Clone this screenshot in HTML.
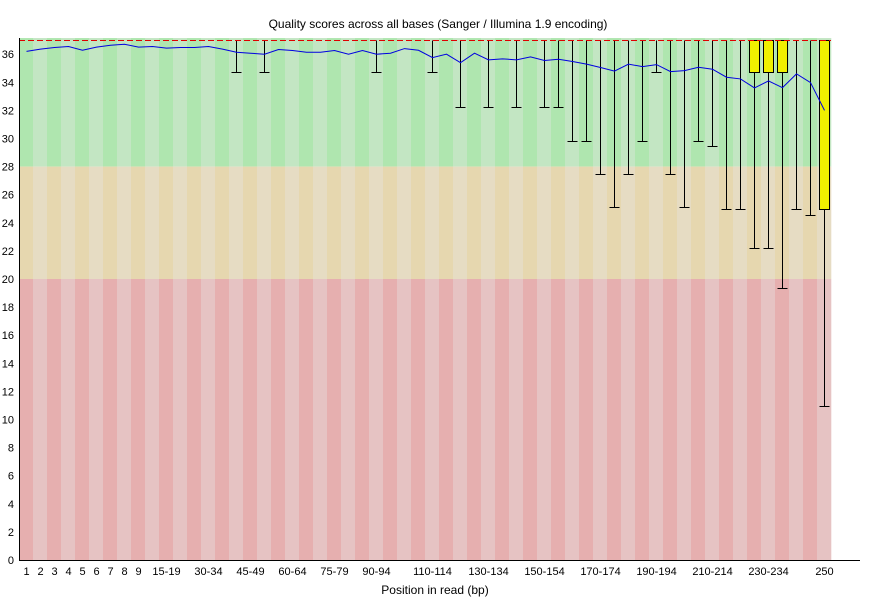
<!DOCTYPE html>
<html><head><meta charset="utf-8"><style>
body{margin:0;background:#fff;}
svg{display:block;font-family:"Liberation Sans","DejaVu Sans",sans-serif;}
</style></head><body>
<svg id="chart" width="870" height="600" viewBox="0 0 870 600" xmlns="http://www.w3.org/2000/svg">
<text x="438" y="28" font-size="12" text-anchor="middle">Quality scores across all bases (Sanger / Illumina 1.9 encoding)</text>
<text x="435" y="594" font-size="12" text-anchor="middle">Position in read (bp)</text>
<g id="bg"></g><g id="marks"></g><g id="axes"></g>
</svg>
<script>
const categories=["1","2","3","4","5","6","7","8","9","10-14","15-19","20-24","25-29","30-34","35-39","40-44","45-49","50-54","55-59","60-64","65-69","70-74","75-79","80-84","85-89","90-94","95-99","100-104","105-109","110-114","115-119","120-124","125-129","130-134","135-139","140-144","145-149","150-154","155-159","160-164","165-169","170-174","175-179","180-184","185-189","190-194","195-199","200-204","205-209","210-214","215-219","220-224","225-229","230-234","235-239","240-244","245-249","250"];
const shownLabels=["1","2","3","4","5","6","7","8","9","15-19","30-34","45-49","60-64","75-79","90-94","110-114","130-134","150-154","170-174","190-194","210-214","230-234","250"];
const meanValues=[36.2,36.36,36.48,36.55,36.28,36.5,36.64,36.71,36.5,36.55,36.43,36.48,36.48,36.55,36.36,36.14,36.07,36.0,36.33,36.26,36.14,36.14,36.26,36.0,36.26,36.0,36.07,36.4,36.28,35.76,36.0,35.4,36.07,35.6,35.67,35.6,35.81,35.55,35.64,35.48,35.29,35.05,34.8,35.29,35.12,35.26,34.76,34.83,35.07,34.93,34.36,34.24,33.6,34.1,33.62,34.6,33.98,32.0];
const lowerQuartile=[37,37,37,37,37,37,37,37,37,37,37,37,37,37,37,37,37,37,37,37,37,37,37,37,37,37,37,37,37,37,37,37,37,37,37,37,37,37,37,37,37,37,37,37,37,37,37,37,37,37,37,37,34.7,34.7,34.7,37,37,25.0];
const upperQuartile=categories.map(()=>37);
const lowerWhisker=[37,37,37,37,37,37,37,37,37,37,37,37,37,37,37,34.7,37,34.7,37,37,37,37,37,37,37,34.7,37,37,37,34.7,37,32.26,37,32.26,37,32.26,37,32.26,32.26,29.84,29.84,27.5,25.1,27.5,29.84,34.7,27.5,25.1,29.84,29.48,24.96,25.0,22.18,22.18,19.34,25.0,24.53,10.94];
const upperWhisker=categories.map(()=>37);
const yTicks=[0,2,4,6,8,10,12,14,16,18,20,22,24,26,28,30,32,34,36];
const zones=[{from:28,to:37.15,c:["rgb(175,230,175)","rgb(195,230,195)"]},{from:20,to:28,c:["rgb(230,215,175)","rgb(230,220,195)"]},{from:0,to:20,c:["rgb(230,175,175)","rgb(230,195,195)"]}];

const NS="http://www.w3.org/2000/svg";
const L=19,R=831,B=560,K=14.05;
const bw=(R-L)/categories.length;
const xs=i=>L+bw*i;
const xc=i=>Math.round(L+bw*i+bw/2)+0.5;
const ys=v=>B-v*K;
const yr=v=>Math.round(B-v*K)+0.5;
function mk(p,tag,attrs){const e=document.createElementNS(NS,tag);for(const k in attrs)e.setAttribute(k,attrs[k]);p.appendChild(e);return e;}
const bg=document.getElementById('bg'),marks=document.getElementById('marks'),axes=document.getElementById('axes');
zones.forEach(z=>{categories.forEach((c,i)=>{
 const r=mk(bg,'rect',{x:xs(i),y:ys(z.to),width:bw+0.3,height:ys(z.from)-ys(z.to),fill:z.c[i%2]});
 
 
});});
categories.forEach((c,i)=>{
 const x=xc(i);
 if(lowerWhisker[i]<lowerQuartile[i]){
  const w=mk(marks,'line',{x1:x,x2:x,y1:yr(lowerQuartile[i]),y2:yr(lowerWhisker[i]),stroke:'#000','stroke-width':1});
  
  
  const cap=mk(marks,'line',{x1:x-5,x2:x+5,y1:yr(lowerWhisker[i]),y2:yr(lowerWhisker[i]),stroke:'#000','stroke-width':1});
  
  
 }
 if(lowerQuartile[i]<upperQuartile[i]){
  const b=mk(marks,'rect',{x:x-5,y:yr(upperQuartile[i]),width:10,height:yr(lowerQuartile[i])-yr(upperQuartile[i]),fill:'#f0f000',stroke:'#000','stroke-width':1});
  
  
 }
});
const med=mk(marks,'line',{x1:L,x2:R,y1:yr(37),y2:yr(37),stroke:'#e00000','stroke-width':1,'stroke-dasharray':'6,3'});


const pl=mk(marks,'polyline',{points:meanValues.map((v,i)=>xc(i)+','+ys(v)).join(' '),fill:'none',stroke:'#0000e0','stroke-width':1});


const ya=mk(axes,'line',{x1:L+0.5,x2:L+0.5,y1:ys(37.15),y2:B,stroke:'#000','stroke-width':1});


const xa=mk(axes,'line',{x1:L,x2:860,y1:B+0.5,y2:B+0.5,stroke:'#000','stroke-width':1});


yTicks.forEach(t=>{
 const tx=mk(axes,'text',{x:14,y:ys(t)+4,'font-size':11,'text-anchor':'end'});
 tx.textContent=t;
 
 
});
categories.forEach((c,i)=>{
 if(shownLabels.indexOf(c)<0)return;
 const tx=mk(axes,'text',{x:xc(i),y:575,'font-size':11,'text-anchor':'middle'});
 tx.textContent=c;
 
 
});
</script>
</body></html>
